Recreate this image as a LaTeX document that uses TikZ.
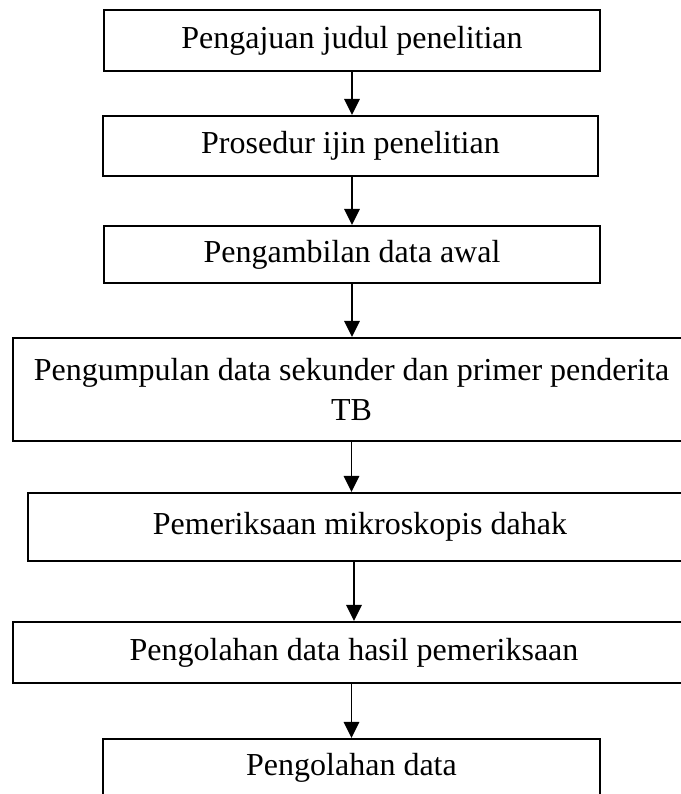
\documentclass[tikz,border=0pt]{standalone}
\usepackage{fontspec}
\setmainfont{Liberation Serif}
\usetikzlibrary{arrows.meta,positioning,calc}

\begin{document}
\begin{tikzpicture}[x=0.375pt,y=-0.375pt,
    kotak/.style={draw,line width=0.8pt,inner sep=2pt,align=center,font=\fontsize{12pt}{15pt}\selectfont},
    panah/.style={-{Triangle[length=6pt,width=5.8pt]},line width=0.7pt}]
        \useasboundingbox (0,0) rectangle (681,794);
        \clip (0,0) rectangle (681,794);
        \node[kotak,minimum width=186pt,minimum height=22.9pt] (a) at (352,40.5) {Pengajuan judul penelitian};
        \node[kotak,minimum width=185.6pt,minimum height=22.5pt] (b) at (350.5,146) {Prosedur ijin penelitian};
        \node[kotak,minimum width=186pt,minimum height=21.4pt] (c) at (352,254.5) {Pengambilan data awal};
        \node[kotak,minimum width=253.9pt,minimum height=38.6pt] (d) at (351.5,389.5) {Pengumpulan data sekunder dan primer penderita\\TB};
        \node[kotak,minimum width=249pt,minimum height=25.5pt] (e) at (360,527) {Pemeriksaan mikroskopis dahak};
        \node[kotak,minimum width=255.8pt,minimum height=22.9pt] (f) at (354,652.5) {Pengolahan data hasil pemeriksaan};
        \node[kotak,minimum width=186.4pt,minimum height=21.8pt] (g) at (351.5,768) {Pengolahan data};
        \draw[panah] (a.south) -- (a.south |- b.north);
        \draw[panah] (c.north |- b.south) -- (c.north);
        \draw[panah] (c.south) -- (c.south |- d.north);
        \draw[panah] (d.south) -- (d.south |- e.north);
        \draw[panah] (f.north |- e.south) -- (f.north);
        \draw[panah] (g.north |- f.south) -- (g.north);
      \end{tikzpicture}
\end{document}
